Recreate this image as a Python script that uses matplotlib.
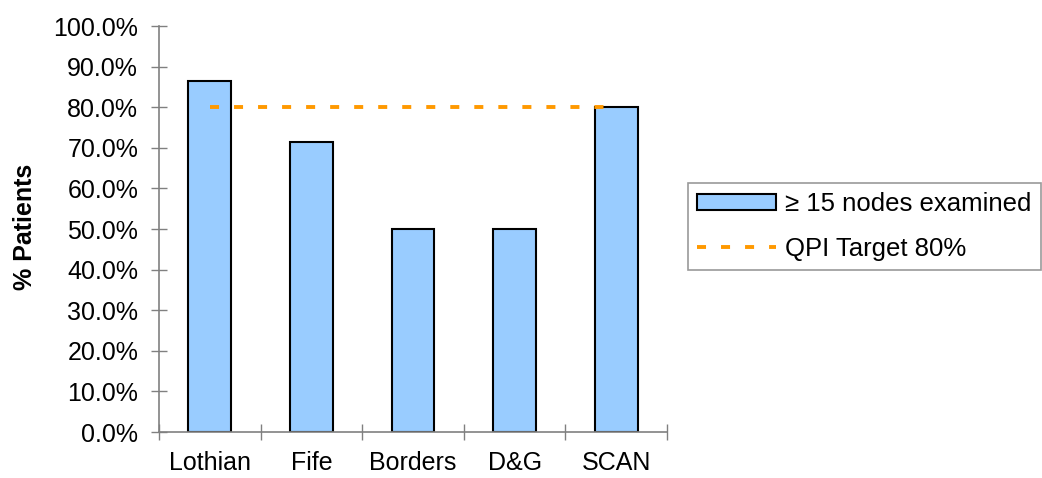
import numpy as np
import matplotlib.pyplot as plt
from matplotlib.lines import Line2D
from matplotlib.patches import Patch

plt.rcParams['font.family'] = ['Liberation Sans', 'DejaVu Sans']

# % of patients with at least 15 lymph nodes examined, by board
boards = ['Lothian', 'Fife', 'Borders', 'D&G', 'SCAN']
pct_nodes = [86.4, 71.4, 50.0, 50.0, 80.0]
target = 80.0

bar_colour = '#99CCFF'
target_colour = '#FF9900'
axis_grey = '#808080'
target_lw = 2.8
dash = [6.5 / target_lw, 10.8 / target_lw]  # scaled by line width

fig = plt.figure(figsize=(10.42, 4.78), dpi=100)
ax = fig.add_axes([0.1526, 0.0962, 0.4875, 0.8494])

x = np.arange(len(boards))
ax.bar(x, pct_nodes, width=0.42, color=bar_colour, edgecolor='black', linewidth=1.5, zorder=2)

target_line, = ax.plot([x[0], x[-1]], [target, target], color=target_colour,
                       linewidth=target_lw, zorder=3)
target_line.set_dashes(dash)
target_line.set_dash_capstyle('butt')

ax.set_xlim(-0.5, len(boards) - 0.5)
ax.set_ylim(0, 100)
ax.set_yticks(np.arange(0, 101, 10))
ax.set_yticklabels(['%.1f%%' % v for v in np.arange(0, 101, 10)], fontsize=18)
ax.set_xticks(x)
ax.set_xticklabels(boards, fontsize=18)
ax.set_xticks(np.arange(-0.5, len(boards)), minor=True)

ax.tick_params(axis='y', direction='inout', length=12, width=1, color=axis_grey, pad=9)
ax.tick_params(axis='x', which='major', length=0, pad=14)
ax.tick_params(axis='x', which='minor', direction='inout', length=12, width=1, color=axis_grey)

for side in ['top', 'right']:
    ax.spines[side].set_visible(False)
for side in ['left', 'bottom']:
    ax.spines[side].set_color(axis_grey)
    ax.spines[side].set_linewidth(1.2)

fig.text(0.024, 0.525, '% Patients', rotation=90, fontsize=18, fontweight='bold',
         ha='center', va='center')

handles = [Patch(facecolor=bar_colour, edgecolor='black', linewidth=1.5),
           Line2D([0], [0], color=target_colour, linewidth=target_lw, dashes=dash,
                  dash_capstyle='butt')]
leg = fig.legend(handles, ['\u2265 15 nodes examined', 'QPI Target 80%'],
                 loc='center left', bbox_to_anchor=(0.66, 0.526), fontsize=18.5,
                 frameon=True, fancybox=False, edgecolor=axis_grey,
                 handlelength=3.1, handleheight=0.55, handletextpad=0.35,
                 labelspacing=0.8, borderpad=0.35, borderaxespad=0)
leg.get_frame().set_linewidth(1.2)

fig.savefig('out.png', dpi=100)
